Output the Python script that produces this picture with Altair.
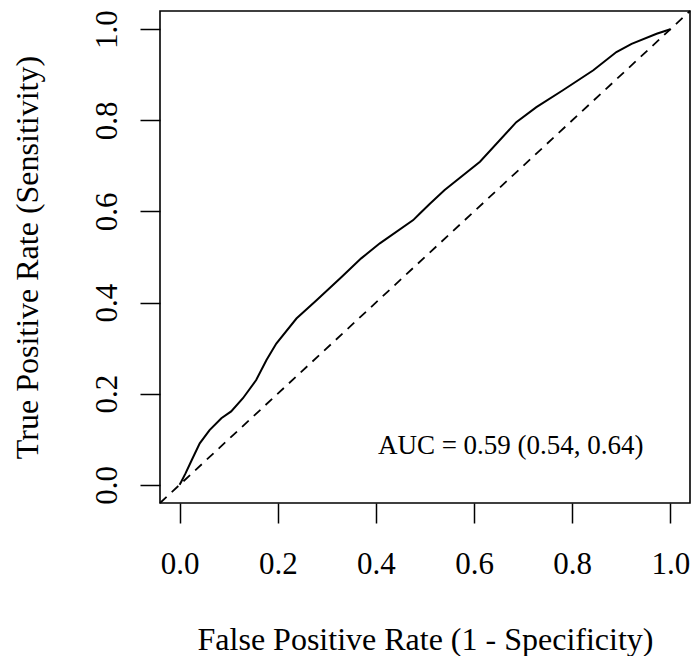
import altair as alt
import pandas as pd

# ROC curve values
fpr = [0.0, 0.003, 0.012, 0.025, 0.041, 0.061, 0.085, 0.105, 0.129, 0.156, 0.177, 0.197,
       0.238, 0.279, 0.33, 0.37, 0.408, 0.476, 0.489, 0.51, 0.54, 0.612, 0.686, 0.727,
       0.781, 0.843, 0.89, 0.921, 0.972, 1.0]
tpr = [0.0, 0.006, 0.025, 0.055, 0.091, 0.12, 0.146, 0.161, 0.19, 0.23, 0.274, 0.31,
       0.365, 0.405, 0.456, 0.497, 0.530, 0.581, 0.595, 0.617, 0.647, 0.709, 0.796, 0.829,
       0.866, 0.91, 0.95, 0.968, 0.99, 1.0]

# chance diagonal across the whole plot range
ref_vals = [-0.04, 1.04]

tick_vals = [0.0, 0.2, 0.4, 0.6, 0.8, 1.0]
auc_label = ["AUC = 0.59 (0.54, 0.64)"]
auc_pos_x = [0.404]
auc_pos_y = [0.068]

FONT = "Liberation Serif"

roc_df = pd.DataFrame({"fpr": fpr, "tpr": tpr, "i": range(len(fpr))})
ref_df = pd.DataFrame({"fpr": ref_vals, "tpr": ref_vals})
auc_df = pd.DataFrame({"x": auc_pos_x, "y": auc_pos_y, "t": auc_label})

xscale = alt.Scale(domain=[-0.04, 1.04], nice=False, zero=False)
yscale = alt.Scale(domain=[-0.04, 1.04], nice=False, zero=False)

xaxis = alt.Axis(
    values=tick_vals, format=".1f", title="False Positive Rate (1 - Specificity)",
    grid=False, domain=False, tickSize=20, tickWidth=1.5, tickColor="black",
    labelFont=FONT, labelFontSize=31, labelColor="black", labelBaseline="alphabetic",
    labelPadding=50, labelFlush=False, labelOverlap=False,
    titleFont=FONT, titleFontSize=32, titleFontWeight="normal", titleColor="black",
    titleBaseline="alphabetic", titleY=146,
)
yaxis = alt.Axis(
    values=tick_vals, format=".1f", title="True Positive Rate (Sensitivity)",
    grid=False, domain=False, tickSize=20, tickWidth=1.5, tickColor="black",
    labelFont=FONT, labelFontSize=31, labelColor="black", labelAngle=-90,
    labelAlign="center", labelBaseline="alphabetic", labelPadding=24,
    labelFlush=False, labelOverlap=False,
    titleFont=FONT, titleFontSize=32, titleFontWeight="normal", titleColor="black",
    titleBaseline="alphabetic", titleX=-123,
)

ref = alt.Chart(ref_df).mark_line(color="black", strokeWidth=1.8, strokeDash=[9, 7]).encode(
    x=alt.X("fpr:Q", scale=xscale, axis=xaxis),
    y=alt.Y("tpr:Q", scale=yscale, axis=yaxis),
)

roc = alt.Chart(roc_df).mark_line(color="black", strokeWidth=2).encode(
    x=alt.X("fpr:Q", scale=xscale),
    y=alt.Y("tpr:Q", scale=yscale),
    order="i:Q",
)

auc = alt.Chart(auc_df).mark_text(
    font=FONT, fontSize=27, align="left", baseline="alphabetic", color="black"
).encode(
    x=alt.X("x:Q", scale=xscale),
    y=alt.Y("y:Q", scale=yscale),
    text="t:N",
)

chart = alt.layer(ref, roc, auc).properties(
    width=530, height=492,
    autosize=alt.AutoSizeParams(type="none"),
    padding={"left": 160, "top": 11, "right": 3, "bottom": 153},
    background="white",
).configure_view(stroke="black", strokeWidth=1.6)

chart.save("out.html", embed_options={"renderer": "svg", "actions": False})
